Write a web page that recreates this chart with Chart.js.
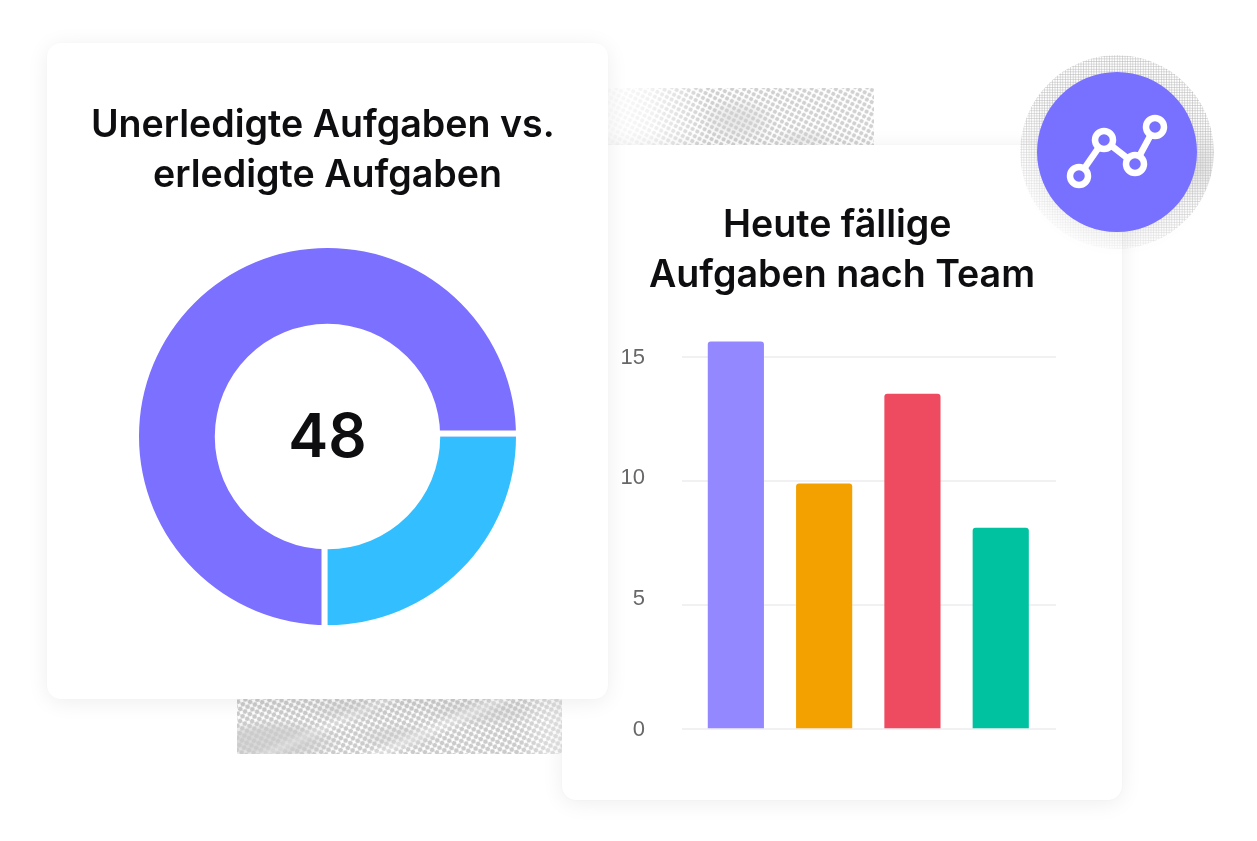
<!DOCTYPE html>
<html lang="de">
<head>
<meta charset="utf-8">
<title>Aufgaben</title>
<script src="https://cdn.jsdelivr.net/npm/chart.js@4"></script>
<style>
html,body{margin:0;padding:0;background:#fff;width:1257px;height:841px;overflow:hidden}
.abs{position:absolute}
.card{background:#fff;border-radius:14px;box-shadow:0 3px 22px rgba(0,0,0,.07),0 0 2px rgba(0,0,0,.04)}
.ht{overflow:hidden}
.ht::before{content:"";position:absolute;left:-200px;top:-300px;width:800px;height:700px;
 transform:rotate(28deg);background-size:5.4px 5.4px;
 background-image:radial-gradient(circle,#cbcbcb var(--d),rgba(203,203,203,0) calc(var(--d) + .6px))}
.ht::after{content:"";position:absolute;inset:0;background-image:var(--over)}
#patchBottom{--d:2.05px;
 background-image:
  radial-gradient(ellipse 70px 22px at 35px 42px,rgba(207,207,207,.8) 50%,rgba(207,207,207,0)),
  radial-gradient(ellipse 45px 14px at 160px 38px,rgba(207,207,207,.45) 40%,rgba(207,207,207,0)),
  radial-gradient(ellipse 60px 14px at 245px 14px,rgba(207,207,207,.4) 40%,rgba(207,207,207,0)),
  radial-gradient(ellipse 40px 12px at 110px 12px,rgba(207,207,207,.35) 40%,rgba(207,207,207,0));
 --over:
  linear-gradient(-24deg,rgba(255,255,255,0) 36%,rgba(255,255,255,.35) 41%,rgba(255,255,255,0) 46%),
  linear-gradient(-24deg,rgba(255,255,255,0) 62%,rgba(255,255,255,.25) 66%,rgba(255,255,255,0) 70%),
  linear-gradient(270deg,rgba(255,255,255,.45),rgba(255,255,255,0) 14%);
}
#patchTop{--d:1.8px;
 background-image:
  radial-gradient(ellipse 40px 24px at 130px 32px,rgba(210,210,210,.5) 30%,rgba(210,210,210,0)),
  radial-gradient(ellipse 30px 10px at 195px 50px,rgba(210,210,210,.35) 30%,rgba(210,210,210,0));
 --over:linear-gradient(90deg,rgba(255,255,255,.92),rgba(255,255,255,.75) 16%,rgba(255,255,255,.1) 38%,rgba(255,255,255,.12) 100%);
}
#halo{
 background-image:
  radial-gradient(circle at 180px 110px,rgba(205,205,205,.5),rgba(205,205,205,0) 40px),
  radial-gradient(circle,#c4c4c4 .75px,rgba(196,196,196,0) 1.1px);
 background-size:auto,2.6px 2.6px;
 -webkit-mask-image:linear-gradient(205deg,#000 45%,rgba(0,0,0,.6) 68%,rgba(0,0,0,.02) 92%);
}
</style>
</head>
<body>
<div class="abs ht" id="patchTop" style="left:608px;top:88px;width:266px;height:57px"></div>
<div class="abs ht" id="patchBottom" style="left:237px;top:699px;width:325px;height:55px"></div>
<div class="abs card" style="left:562px;top:145px;width:560px;height:655px">
  <canvas id="bars" width="560" height="655" style="display:block;width:560px;height:655px"></canvas>
</div>
<div class="abs" id="halo" style="left:1020px;top:55px;width:194px;height:194px;border-radius:50%"></div>
<div class="abs" style="left:1037px;top:72px;width:160px;height:160px;border-radius:50%;background:#7870ff;box-shadow:0 6px 24px rgba(0,0,0,.05)"></div>
<svg class="abs" style="left:1037px;top:72px" width="160" height="160" viewBox="0 0 160 160" fill="#7870ff" stroke="#fff" stroke-width="6.5">
  <polyline points="42,104 67,68 98,92 118,55" fill="none"/>
  <circle cx="42" cy="104" r="9"/><circle cx="67" cy="68" r="9"/><circle cx="98" cy="92" r="9"/><circle cx="118" cy="55" r="9"/>
</svg>
<div class="abs card" style="left:47px;top:43px;width:561px;height:656px">
  <canvas id="donut" width="561" height="656" style="display:block;width:561px;height:656px"></canvas>
</div>
<script>
const donutTitle = ["Unerledigte Aufgaben vs. ", "erledigte Aufgaben"];
const donutLabels = ["Unerledigt", "Erledigt"];
const donutValues = [36, 12];
const donutColors = ["#7b70ff", "#33bfff"];
const donutCenter = "48";

const barTitle = ["Heute fällige ", "Aufgaben nach Team"];
const barTeams = ["Team A", "Team B", "Team C", "Team D"];
const barValues = [15.6, 9.88, 13.5, 8.1];
const barColors = ["#9388ff", "#f2a100", "#ee4b60", "#00c2a0"];
const gridValues = [0, 5, 10, 15];
const tickLabels = ["0", "5", "10", "15"];
// in the picture the tick numbers sit slightly above their gridlines
const tickLabelPositions = [0, 5.28, 10.16, 15];

const FONT = "Inter, 'Noto Sans', sans-serif";
Chart.defaults.animation = false;
Chart.defaults.font.family = FONT;

const centerPlugin = {
  id: "centerPlugin",
  afterDatasetsDraw(chart) {
    const arc = chart.getDatasetMeta(0).data[0];
    const {x, y, innerRadius, outerRadius} = arc;
    const c = chart.ctx;
    c.save();
    // white separators sit on the purple side of the two slice boundaries
    c.fillStyle = "#fff";
    const g = 6;
    c.fillRect(x + innerRadius - 2, y - g, outerRadius - innerRadius + 4, g);
    c.fillRect(x - g, y + innerRadius - 2, g, outerRadius - innerRadius + 4);
    c.fillStyle = "#0e0e10";
    c.font = "600 60px " + FONT;
    c.textAlign = "center";
    c.textBaseline = "middle";
    c.fillText(donutCenter, x, y + 2);
    c.restore();
  }
};

new Chart(document.getElementById("donut"), {
  type: "doughnut",
  plugins: [centerPlugin],
  data: {
    labels: donutLabels,
    datasets: [{data: donutValues, backgroundColor: donutColors, borderWidth: 0}]
  },
  options: {
    responsive: false,
    rotation: 180,
    radius: 188.5,
    cutout: "59.8%",
    layout: {padding: {bottom: 27}},
    plugins: {
      legend: {display: false},
      tooltip: {enabled: false},
      title: {
        display: true, text: donutTitle, color: "#0e0e10",
        font: {size: 37.6, weight: "600", lineHeight: 50 / 37.6},
        padding: {top: 58, bottom: 0}
      }
    }
  }
});

new Chart(document.getElementById("bars"), {
  type: "bar",
  data: {
    datasets: [{
      data: barValues.map((v, i) => ({x: i, y: v, team: barTeams[i]})),
      backgroundColor: barColors,
      barThickness: 55.5,
      borderRadius: {topLeft: 3, topRight: 3, bottomLeft: 0, bottomRight: 0},
      borderSkipped: false
    }]
  },
  options: {
    responsive: false,
    layout: {padding: {left: 0, right: 0, top: 0, bottom: 71}},
    plugins: {
      legend: {display: false},
      tooltip: {enabled: false},
      title: {
        display: true, text: barTitle, color: "#0e0e10",
        font: {size: 37.6, weight: "600", lineHeight: 50 / 37.6},
        padding: {top: 56, bottom: 31}
      }
    },
    scales: {
      x: {type: "linear", offset: false, display: false, min: -0.61, max: 3.626, grid: {display: false}},
      y: {
        position: "left",
        min: 0, max: 16,
        afterBuildTicks(scale) { scale.ticks = gridValues.map(value => ({value})); },
        afterFit(scale) { scale.width = 0; },
        border: {display: false},
        grid: {color: "#f1f1f3", lineWidth: 2, drawTicks: false},
        ticks: {display: false}
      },
      yLabels: {
        position: "left",
        min: 0, max: 16,
        afterBuildTicks(scale) { scale.ticks = tickLabelPositions.map(value => ({value})); },
        afterFit(scale) { scale.width = 120; },
        border: {display: false},
        grid: {display: false, drawTicks: false},
        ticks: {
          color: "#68686b", padding: 37, labelOffset: 1,
          font: {size: 22, family: "'Liberation Sans', Arial, sans-serif"},
          callback: (value, index) => tickLabels[index]
        }
      },
      rightGutter: {
        position: "right",
        afterFit(scale) { scale.width = 66; },
        border: {display: false},
        grid: {display: false, drawTicks: false},
        ticks: {display: false}
      }
    }
  }
});
</script>
</body>
</html>
